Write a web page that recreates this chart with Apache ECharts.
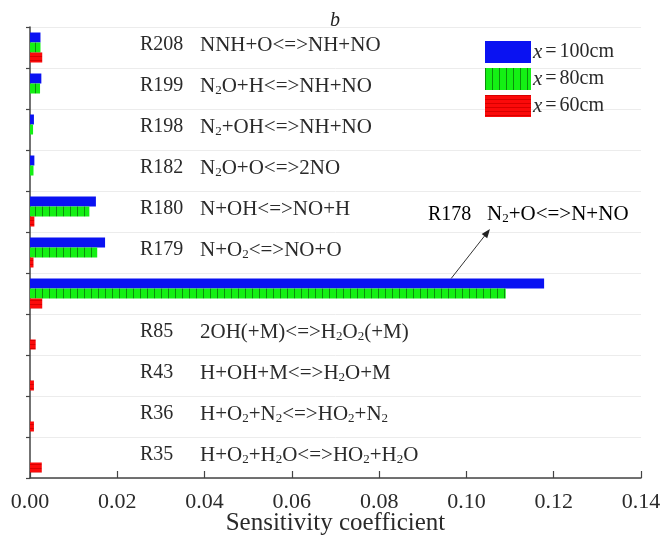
<!DOCTYPE html>
<html><head><meta charset="utf-8">
<script src="https://cdn.jsdelivr.net/npm/echarts@6/dist/echarts.min.js"></script>
<style>html,body{margin:0;padding:0;background:#fff}#c{width:668px;height:540px}</style>
</head><body><div id="c"></div>
<script>
const categories = ['R208','R199','R198','R182','R180','R179','R178','R85','R43','R36','R35'];
const reactions = ['NNH+O<=>NH+NO','N_2O+H<=>NH+NO','N_2+OH<=>NH+NO','N_2O+O<=>2NO','N+OH<=>NO+H','N+O_2<=>NO+O','N_2+O<=>N+NO','2OH(+M)<=>H_2O_2(+M)','H+OH+M<=>H_2O+M','H+O_2+N_2<=>HO_2+N_2','H+O_2+H_2O<=>HO_2+H_2O'];
const seriesNames = ['100cm','80cm','60cm'];
const x100 = [0.0024,0.0026,0.0009,0.0010,0.0151,0.0172,0.1178,0,0,0,0];
const x80  = [0.0024,0.0023,0.0007,0.0008,0.0136,0.0154,0.1090,0,0,0,0];
const x60  = [0.0028,0,0,0,0.0010,0.0008,0.0028,0.0013,0.0009,0.0009,0.0027];
const xTicks = {min:0, max:0.14, interval:0.02};

const FONT = '"Liberation Serif","DejaVu Serif",serif';
const TXT = '#2a2a2a';
const rich = {
  r:{fontFamily:FONT,fontSize:20,color:TXT,width:60,lineHeight:22},
  ra:{fontFamily:FONT,fontSize:20,color:TXT,width:59,lineHeight:22},
  t:{fontFamily:FONT,fontSize:21,color:TXT,lineHeight:22},
  s:{fontFamily:FONT,fontSize:13,color:TXT,verticalAlign:'bottom',lineHeight:16,padding:[7,0,0,0]}
};
function fmtReaction(id, rx, rk){
  return '{'+(rk||'r')+'|'+id+'}' + rx.split(/(_\d)/).filter(p=>p).map(p=>p[0]==='_'?'{s|'+p[1]+'}':'{t|'+p+'}').join('');
}
function pattern(w,h,bg,line,vertical){
  const c=document.createElement('canvas'); c.width=w; c.height=h;
  const g=c.getContext('2d'); g.fillStyle=bg; g.fillRect(0,0,w,h);
  g.fillStyle=line; if(vertical) g.fillRect(0,0,1,h); else g.fillRect(0,0,w,1);
  return {image:c, repeat:'repeat'};
}
const colors = ['#0a12f2', pattern(7,10,'#14f014','#0b8f0b',true), pattern(6,4,'#fb0a0a','#d80000',false)];

const chart = echarts.init(document.getElementById('c'));
chart.setOption({
  animation:false,
  backgroundColor:'#fff',
  title:{text:'b', left:325, top:6, textStyle:{fontFamily:FONT,fontSize:20,fontStyle:'italic',fontWeight:'normal',color:'#222'}},
  legend:{orient:'vertical', left:480, top:36, itemWidth:46, itemHeight:22, itemGap:5,
    data:seriesNames,
    formatter:n=>'{i|x}{e|=}{t|'+n+'}',
    textStyle:{fontFamily:FONT,fontSize:20,color:TXT,padding:[0,0,0,-3],
      rich:{i:{fontFamily:FONT,fontSize:21,fontStyle:'italic',color:TXT},
            e:{fontFamily:FONT,fontSize:20,color:TXT,padding:[0,3,0,3]},
            t:{fontFamily:FONT,fontSize:20,color:TXT}}},
    icon:'rect'},
  grid:{left:30, right:27, top:27, bottom:62, outerBoundsMode:'none', containLabel:false},
  xAxis:{type:'value', min:xTicks.min, max:xTicks.max, interval:xTicks.interval,
    axisLine:{show:true,lineStyle:{color:'#444',width:1.5}},
    axisTick:{show:true,inside:true,length:7,lineStyle:{color:'#444',width:1.2}},
    splitLine:{show:false},
    axisLabel:{fontFamily:FONT,fontSize:22,color:TXT,margin:13,formatter:v=>v.toFixed(2)},
    name:'Sensitivity coefficient', nameLocation:'middle', nameGap:33, nameMoveOverlap:false,
    nameTextStyle:{fontFamily:FONT,fontSize:25,color:TXT}},
  yAxis:{type:'category', inverse:true, data:categories,
    axisLine:{show:true,lineStyle:{color:'#444',width:1.5}},
    axisTick:{show:true,length:4,lineStyle:{color:'#444',width:1.2}},
    splitLine:{show:true,lineStyle:{color:'#ececec',width:1}},
    axisLabel:{inside:true, margin:110, padding:[0,0,5,0], formatter:(v,i)=> i===6 ? '' : fmtReaction(v, reactions[i]), rich:rich}},
  series:[
    {name:seriesNames[0], type:'bar', data:x100, barWidth:10, barGap:'0%', itemStyle:{color:colors[0]}},
    {name:seriesNames[1], type:'bar', data:x80, barWidth:10, barGap:'0%', itemStyle:{color:colors[1]}},
    {name:seriesNames[2], type:'bar', data:x60, barWidth:10, barGap:'0%', itemStyle:{color:colors[2]}}
  ]
});

// annotation for R178
const ix = 6;
const anchorX = chart.convertToPixel({xAxisIndex:0}, 0.0965);
const bandY = chart.convertToPixel({yAxisIndex:0}, categories[ix]);
const ax = anchorX, ay = bandY - 15;
const tx = 490, ty = 229;
const ang = Math.atan2(ty-ay, tx-ax);
const hl = 9, hw = 3.5;
const bx = tx - hl*Math.cos(ang), by = ty - hl*Math.sin(ang);
const px = -Math.sin(ang)*hw, py = Math.cos(ang)*hw;
chart.setOption({graphic:[
  {type:'line', shape:{x1:ax,y1:ay,x2:bx,y2:by}, style:{stroke:'#333',lineWidth:1}, z:10},
  {type:'polygon', shape:{points:[[tx,ty],[bx+px,by+py],[bx-px,by-py]]}, style:{fill:'#222'}, z:10},
  {type:'text', left:428, top:204, z:10, style:{text:fmtReaction(categories[ix], reactions[ix], 'ra'), rich:rich}}
]});
</script></body></html>
